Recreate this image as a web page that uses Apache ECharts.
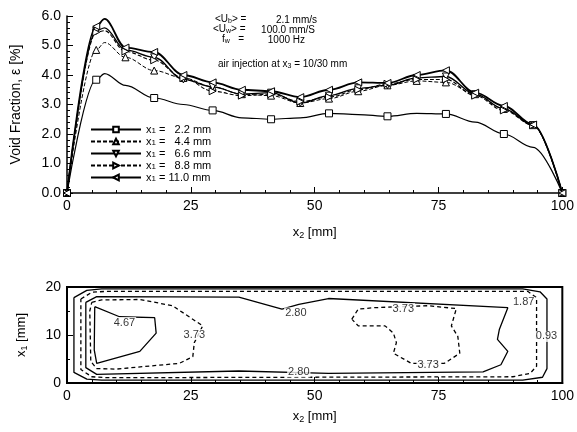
<!DOCTYPE html>
<html>
<head>
<meta charset="utf-8">
<script src="https://cdn.jsdelivr.net/npm/echarts@6/dist/echarts.min.js"></script>
<style>
  html, body { margin: 0; background: #fff; }
  #chart { width: 577px; height: 432px; }
</style>
</head>
<body>
<div id="chart"></div>
<script>
// x2 positions [mm] of the profile samples (markers every 100/17 mm, plus the peak)
const x2 = [0, 5.9, 7.6, 11.8, 17.6, 23.5, 29.4, 35.3, 41.2, 47.1, 52.9, 58.8, 64.7, 70.6, 76.5, 82.4, 88.2, 94.1, 100]

// void fraction [%] per x1 station
const eps22 = [0, 3.84, 4.05, 3.65, 3.22, 3.0, 2.8, 2.55, 2.5, 2.55, 2.7, 2.66, 2.6, 2.7, 2.68, 2.4, 2.0, 1.55, 0]
const eps44 = [0, 4.85, 5.1, 4.6, 4.15, 3.9, 3.6, 3.35, 3.3, 3.05, 3.2, 3.45, 3.65, 3.8, 3.75, 3.35, 2.85, 2.3, 0]
const eps66 = [0, 5.5, 5.6, 4.85, 4.6, 3.85, 3.6, 3.35, 3.4, 3.05, 3.3, 3.55, 3.65, 3.9, 3.95, 3.35, 2.85, 2.3, 0]
const eps88 = [0, 5.45, 5.5, 4.8, 4.5, 3.9, 3.45, 3.3, 3.35, 3.1, 3.25, 3.5, 3.7, 3.85, 3.85, 3.3, 2.8, 2.3, 0]
const eps110 = [0, 5.65, 5.9, 4.93, 4.78, 4.0, 3.75, 3.5, 3.45, 3.25, 3.5, 3.75, 3.73, 4.0, 4.16, 3.4, 2.95, 2.32, 0]

const stations = ['2.2', '4.4', '6.6', '8.8', '11.0']
const squareMarks = [0, 1, 4, 6, 8, 10, 12, 14, 16, 18]
const allMarks = [0, 1, 3, 4, 5, 6, 7, 8, 9, 10, 11, 12, 13, 14, 15, 16, 17, 18]

// contour lines in the (x2, x1) plane [mm]
const c093 = [[1.4, 17.8], [4, 19.3], [7, 19.6], [92, 19.6], [95.5, 19.0], [96.9, 17.5], [96.9, 3], [96, 1.2], [92, 0.6], [7, 0.6], [4, 0.8], [1.4, 2.2], [1.4, 17.8]]
const c187 = [[2.8, 17.5], [5, 18.9], [8, 19.1], [93, 19.1], [94.8, 17.8], [94.8, 3.5], [93.5, 2.0], [90, 1.3], [8, 1.1], [5, 1.3], [2.8, 2.8], [2.8, 17.5]]
const c280 = [[3.8, 16.8], [6, 18.0], [34.7, 17.9], [43.4, 15.4], [46.8, 16.4], [52.8, 17.6], [89, 15.7], [87.3, 11.2], [86.9, 9.1], [89, 6.6], [87.6, 3.8], [84, 2.3], [52.8, 2.0], [34.7, 2.5], [6, 1.8], [3.8, 3.2], [3.8, 16.8]]
const c373a = [[5, 16.8], [7, 17.3], [14.7, 17.4], [21.3, 16.1], [27.4, 11.9], [25.7, 8.4], [25.4, 5.5], [22.7, 4.1], [10, 2.9], [6, 3.0], [4.8, 4.5], [4.6, 15], [5, 16.8]]
const c373b = [[57.5, 13.3], [58.8, 15.4], [62.2, 15.7], [72.9, 16.1], [78.6, 15.5], [77.6, 11.9], [78.9, 9.7], [79.3, 6.2], [76.2, 4.1], [69.5, 4.1], [65.9, 6.2], [66.5, 8.4], [65.9, 10.4], [64.2, 11.9], [58.8, 11.9], [57.5, 13.3]]
const c467 = [[5.6, 15.9], [10.6, 13.8], [17.7, 13.6], [18, 10.4], [14.7, 6.6], [6, 4.1], [5.5, 6.9], [5.6, 15.9]]

const contourLabels = [
    [11.6, 12.6, '4.67'], [25.7, 10.1, '3.73'], [46.2, 14.6, '2.80'], [46.8, 2.3, '2.80'],
    [67.9, 15.5, '3.73'], [72.9, 3.8, '3.73'], [92.2, 16.8, '1.87'], [96.8, 9.7, '0.93']
]

const font = 'Liberation Sans, Arial, sans-serif'
const sub = { fontSize: 9, verticalAlign: 'bottom', padding: [6, 0, 0, 0], fontFamily: font }
const smallSub = { ...sub, fontSize: 7, padding: [4, 0, 0, 0] }
const legendSub = { fontSize: 8, lineHeight: 11, verticalAlign: 'bottom', padding: [3, 0, 0, 0], fontFamily: font }

const toPairs = (ys, marks) => x2.map((x, i) =>
    marks.includes(i) ? [x, ys[i]] : { value: [x, ys[i]], symbol: 'none' })

const profile = (i, ys, symbol, rotate, type, width, marks) => ({
    name: stations[i],
    type: 'line',
    xAxisIndex: 0,
    yAxisIndex: 0,
    smooth: 0.35,
    smoothMonotone: 'x',
    symbol: symbol,
    symbolRotate: rotate,
    symbolSize: 7,
    itemStyle: { color: '#fff', borderColor: '#000', borderWidth: 1 },
    lineStyle: { color: '#000', width: width, type: type },
    data: toPairs(ys, marks),
    z: 3 + i
})

const contour = (pts, type) => ({
    type: 'line',
    xAxisIndex: 1,
    yAxisIndex: 1,
    symbol: 'none',
    silent: true,
    lineStyle: { color: '#000', width: 1.3, type: type === 'dashed' ? [4, 3] : 'solid' },
    data: pts
})

const tickAxis = {
    axisLine: { lineStyle: { color: '#000', width: 1.5 } },
    axisTick: { inside: true, length: 6, lineStyle: { color: '#000' } },
    minorTick: { show: true, splitNumber: 5, length: 3, lineStyle: { color: '#000' } },
    splitLine: { show: false },
    axisLabel: { color: '#000', fontSize: 14, fontFamily: font, margin: 6 }
}

const chart = echarts.init(document.getElementById('chart'), null, { renderer: 'canvas' })

const options = {
    animation: false,
    backgroundColor: '#fff',
    grid: [
        { left: 67, right: 14, top: 16, height: 177 },
        { left: 67, right: 13, top: 287, height: 96, show: true, borderColor: '#000', borderWidth: 2 }
    ],
    legend: {
        data: stations,
        orient: 'vertical',
        left: 90,
        top: 124,
        itemWidth: 50,
        itemHeight: 7,
        itemGap: 1,
        padding: 0,
        formatter: n => `x{s|1} = ${n.length < 4 ? '  ' : ''}${n} mm`,
        textStyle: { color: '#000', fontSize: 11, lineHeight: 11, fontFamily: font, rich: { s: legendSub } }
    },
    xAxis: [
        {
            ...tickAxis, gridIndex: 0, type: 'value', min: 0, max: 100, interval: 25,
            name: 'x{s|2} [mm]', nameLocation: 'middle', nameGap: 32,
            nameTextStyle: { color: '#000', fontSize: 13, fontFamily: font, rich: { s: sub } }
        },
        {
            ...tickAxis, gridIndex: 1, type: 'value', min: 0, max: 100, interval: 25,
            axisLine: { lineStyle: { color: '#000', width: 2 } },
            name: 'x{s|2} [mm]', nameLocation: 'middle', nameGap: 26,
            nameTextStyle: { color: '#000', fontSize: 13, fontFamily: font, rich: { s: sub } }
        }
    ],
    yAxis: [
        {
            ...tickAxis, gridIndex: 0, type: 'value', min: 0, max: 6, interval: 1,
            axisLabel: { ...tickAxis.axisLabel, formatter: v => v.toFixed(1) },
            name: 'Void Fraction, ε [%]', nameLocation: 'middle', nameGap: 44,
            nameTextStyle: { color: '#000', fontSize: 14, fontFamily: font }
        },
        {
            ...tickAxis, gridIndex: 1, type: 'value', min: 0, max: 20, interval: 10,
            axisLine: { lineStyle: { color: '#000', width: 2 } },
            minorTick: { show: true, splitNumber: 2, length: 3, lineStyle: { color: '#000' } },
            name: 'x{s|1} [mm]', nameLocation: 'middle', nameGap: 38,
            nameTextStyle: { color: '#000', fontSize: 13, fontFamily: font, rich: { s: sub } }
        }
    ],
    graphic: [
        { type: 'text', left: 215, top: 14, style: { text: '<U{s|b}> =', font: `10px ${font}`, rich: { s: smallSub } } },
        { type: 'text', left: 213, top: 24, style: { text: '<U{s|w}> =', font: `10px ${font}`, rich: { s: smallSub } } },
        { type: 'text', left: 222, top: 34, style: { text: 'f{s|w}   =', font: `10px ${font}`, rich: { s: smallSub } } },
        { type: 'text', right: 577 - 317, top: 15, style: { text: '2.1 mm/s', font: `10px ${font}`, align: 'right' } },
        { type: 'text', right: 577 - 315, top: 25, style: { text: '100.0 mm/S', font: `10px ${font}`, align: 'right' } },
        { type: 'text', right: 577 - 305, top: 35, style: { text: '1000 Hz', font: `10px ${font}`, align: 'right' } },
        { type: 'text', left: 218, top: 59, style: { text: 'air injection at x{s|3} = 10/30 mm', font: `10px ${font}`, rich: { s: smallSub } } }
    ],
    series: [
        profile(0, eps22, 'rect', 0, 'solid', 1.2, squareMarks),
        profile(1, eps44, 'triangle', 0, [4, 2], 1, allMarks),
        profile(2, eps66, 'triangle', 180, 'solid', 1.3, allMarks),
        profile(3, eps88, 'triangle', -90, [4, 2], 1.1, allMarks),
        profile(4, eps110, 'triangle', 90, 'solid', 1.8, allMarks),
        contour(c093, 'solid'),
        contour(c187, 'dashed'),
        contour(c280, 'solid'),
        contour(c373a, 'dashed'),
        contour(c373b, 'dashed'),
        contour(c467, 'solid'),
        {
            type: 'scatter',
            xAxisIndex: 1,
            yAxisIndex: 1,
            symbolSize: 0,
            silent: true,
            z: 10,
            label: {
                show: true, position: 'inside', formatter: '{b}', color: '#000',
                fontSize: 11, fontFamily: font, backgroundColor: '#fff', padding: [0, 1]
            },
            data: contourLabels.map(([x, y, t]) => ({ name: t, value: [x, y] }))
        }
    ]
}
chart.setOption(options)
</script>
</body>
</html>
